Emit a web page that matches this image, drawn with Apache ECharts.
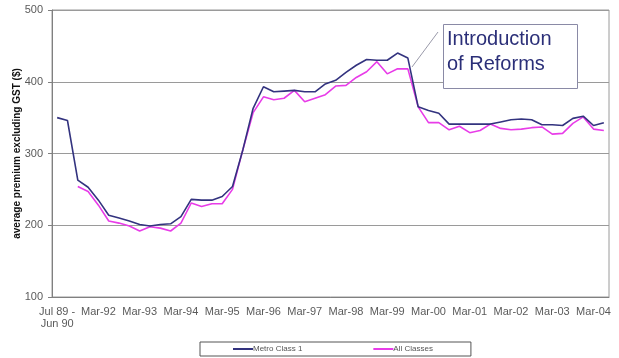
<!DOCTYPE html>
<html>
<head>
<meta charset="utf-8">
<script src="https://cdn.jsdelivr.net/npm/echarts@6/dist/echarts.min.js"></script>
<style>
  html, body { margin: 0; padding: 0; background: #fff; }
  #chart { width: 619px; height: 358px; }
</style>
</head>
<body>
<div id="chart"></div>
<script>
// Quarterly periods (first two are financial years)
const categories = [
  'Jul 89 -\nJun 90', 'Jul 90 -\nJun 91', 'Sep-91', 'Dec-91',
  'Mar-92', 'Jun-92', 'Sep-92', 'Dec-92',
  'Mar-93', 'Jun-93', 'Sep-93', 'Dec-93',
  'Mar-94', 'Jun-94', 'Sep-94', 'Dec-94',
  'Mar-95', 'Jun-95', 'Sep-95', 'Dec-95',
  'Mar-96', 'Jun-96', 'Sep-96', 'Dec-96',
  'Mar-97', 'Jun-97', 'Sep-97', 'Dec-97',
  'Mar-98', 'Jun-98', 'Sep-98', 'Dec-98',
  'Mar-99', 'Jun-99', 'Sep-99', 'Dec-99',
  'Mar-00', 'Jun-00', 'Sep-00', 'Dec-00',
  'Mar-01', 'Jun-01', 'Sep-01', 'Dec-01',
  'Mar-02', 'Jun-02', 'Sep-02', 'Dec-02',
  'Mar-03', 'Jun-03', 'Sep-03', 'Dec-03',
  'Mar-04', 'Jun-04'
];

// Average premium excluding GST ($)
const metroClass1 = [
  350, 346, 263, 253, 235, 214, 210, 206,
  201, 199, 201, 202, 212, 236, 235, 235,
  240, 254, 305, 363, 393, 386, 387, 388,
  386, 386, 397, 402, 413, 423, 431, 430,
  430, 440, 433, 365, 360, 356, 341, 341,
  341, 341, 341, 344, 347, 348, 347, 340,
  340, 339, 349, 352, 339, 343
];

const allClasses = [
  null, null, 254, 247, 228, 206, 203, 199,
  192, 198, 196, 192, 203, 231, 226, 230,
  230, 250, 305, 357, 379, 375, 377, 388,
  372, 377, 382, 394, 395, 406, 414, 428,
  411, 418, 418, 365, 343, 343, 333, 338,
  329, 332, 341, 335, 333, 334, 336, 337,
  327, 328, 342, 351, 334, 332
];

const yTicks = { min: 100, max: 500, step: 100 };

const FONT = '"Liberation Sans", Arial, sans-serif';
const GREY_TEXT = '#5a5a5a';
const GRID_GREY = '#9a9a9a';

const chart = echarts.init(document.getElementById('chart'), null, { renderer: 'canvas' });

chart.setOption({
  animation: false,
  backgroundColor: '#fff',
  textStyle: { fontFamily: FONT },
  grid: {
    left: 52, right: 10, top: 10, bottom: 61,
    outerBoundsMode: 'none',
    containLabel: false,
    show: true, borderColor: GRID_GREY, borderWidth: 1, backgroundColor: 'transparent'
  },
  xAxis: {
    type: 'category',
    data: categories,
    boundaryGap: true,
    axisLine: { lineStyle: { color: '#808080', width: 1 } },
    axisTick: { interval: 3, length: 4, lineStyle: { color: '#808080' } },
    axisLabel: {
      interval: 3, margin: 9, color: GREY_TEXT, fontSize: 11,
      fontFamily: FONT, lineHeight: 12
    },
    splitLine: { show: false }
  },
  yAxis: {
    type: 'value',
    min: yTicks.min, max: yTicks.max, interval: yTicks.step,
    name: 'average premium excluding GST ($)',
    nameLocation: 'middle',
    nameGap: 30,
    nameMoveOverlap: false,
    nameTextStyle: { fontSize: 10, fontWeight: 'bold', color: '#111', fontFamily: FONT },
    axisLine: { show: true, lineStyle: { color: '#808080', width: 1 } },
    axisTick: { show: true, length: 4, lineStyle: { color: '#808080' } },
    axisLabel: { margin: 9, color: GREY_TEXT, fontSize: 11, fontFamily: FONT },
    splitLine: { show: true, lineStyle: { color: GRID_GREY, width: 1.2 } }
  },
  legend: {
    bottom: 2,
    left: 200,
    padding: [3, 38, 3, 33],
    itemGap: 71,
    itemWidth: 20,
    itemHeight: 2,
    icon: 'rect',
    borderColor: '#555',
    borderWidth: 1,
    textStyle: { fontSize: 8, color: '#555', fontFamily: FONT, padding: [0, 0, 0, -5] },
    data: ['Metro Class 1', 'All Classes']
  },
  series: [
    {
      name: 'Metro Class 1',
      type: 'line',
      data: metroClass1,
      symbol: 'none',
      lineStyle: { color: '#33337f', width: 1.6 },
      itemStyle: { color: '#33337f' },
      z: 3
    },
    {
      name: 'All Classes',
      type: 'line',
      data: allClasses,
      symbol: 'none',
      lineStyle: { color: '#e83ce8', width: 1.6 },
      itemStyle: { color: '#e83ce8' },
      z: 2
    }
  ],
  graphic: [
    {
      type: 'line',
      shape: { x1: 438, y1: 32, x2: 412, y2: 67 },
      style: { stroke: '#9a9aaa', lineWidth: 1 },
      z: 10
    },
    {
      type: 'rect',
      shape: { x: 443.5, y: 24.5, width: 134, height: 64 },
      style: { fill: '#fff', stroke: '#8a8aa6', lineWidth: 1 },
      z: 10
    },
    {
      type: 'text',
      left: 447, top: 27,
      style: {
        text: 'Introduction\nof Reforms',
        fill: '#2b2f78',
        font: '20px "Liberation Sans", Arial, sans-serif',
        lineHeight: 25
      },
      z: 11
    }
  ]
});
</script>
</body>
</html>
